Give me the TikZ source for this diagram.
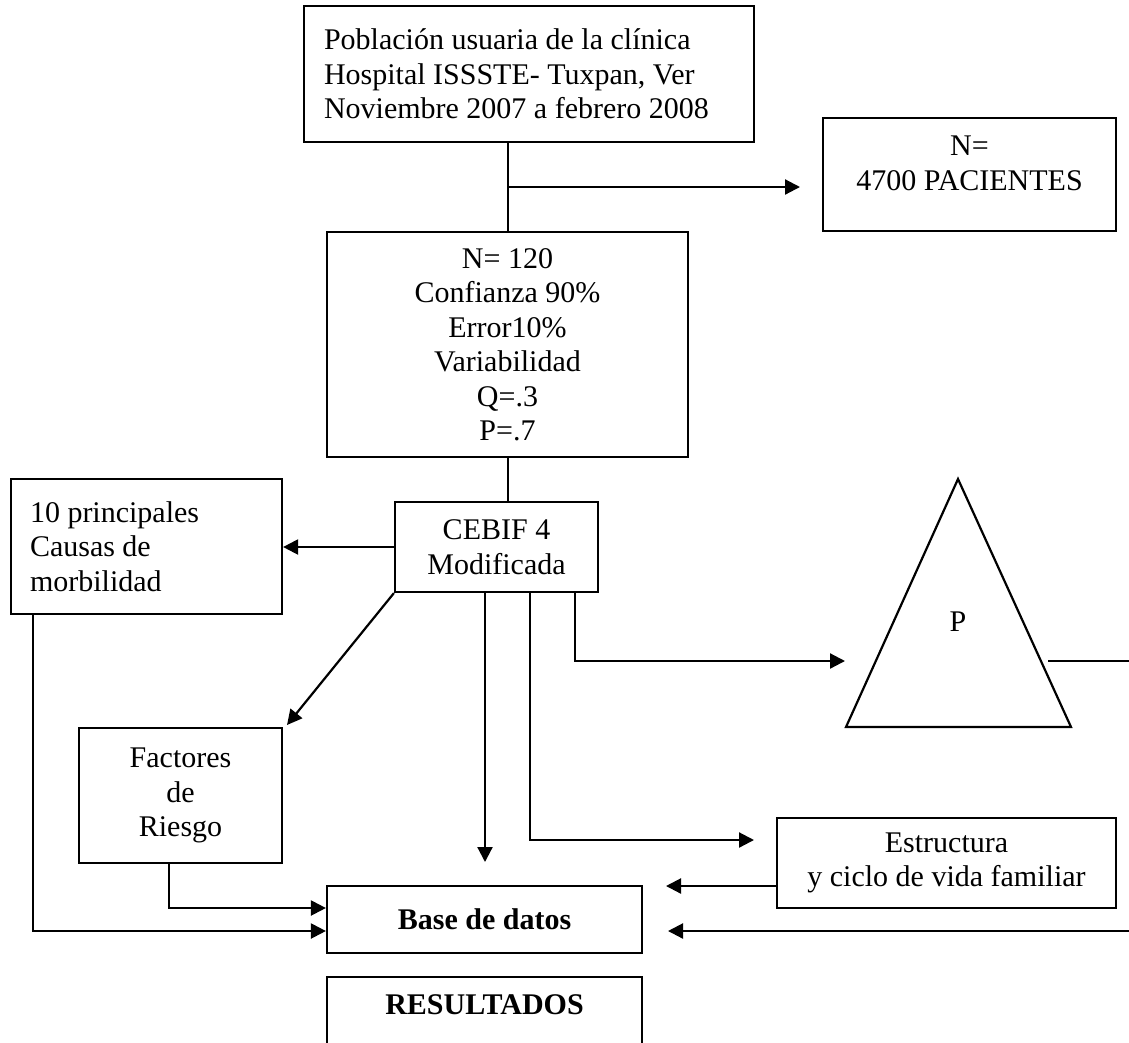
\documentclass[tikz,border=0pt]{standalone}
\usepackage{fontspec}
\setmainfont{Liberation Serif}
\usetikzlibrary{arrows.meta}
\begin{document}
\begin{tikzpicture}[x=1pt,y=-1pt,
  every node/.style={font=\fontsize{30}{34.5}\selectfont},
  box/.style={draw, line width=2.2pt, inner sep=0pt, align=center},
  conn/.style={line width=2.2pt},
  arr/.style={line width=2.2pt, -{Triangle[length=15pt,width=15pt]}}]
\useasboundingbox (0,0) rectangle (1129,1042);
\clip (0,0) rectangle (1129,1042);
% boxes
\node[box, minimum width=450, minimum height=136, align=flush left, text width=410] (top) at (529,74)
  {Población usuaria de la clínica\\Hospital ISSSTE- Tuxpan, Ver\\Noviembre 2007 a febrero 2008};
\node[box, minimum width=293, minimum height=113] (npac) at (969.5,174.5)
  {N=\\4700 PACIENTES\\[-12pt]};
\node[box, minimum width=361, minimum height=225] (n120) at (507.5,344.5)
  {N= 120\\Confianza 90\%\\Error10\%\\Variabilidad\\Q=.3\\P=.7};
\node[box, minimum width=203, minimum height=90] (cebif) at (496.5,547)
  {CEBIF 4\\Modificada};
\node[box, minimum width=271, minimum height=135, align=flush left, text width=233] (prin) at (146.5,546.5)
  {10 principales\\Causas de\\morbilidad\\[-4pt]};
\node[box, minimum width=203, minimum height=135] (fact) at (180.5,795.5)
  {Factores\\de\\Riesgo};
\node[box, minimum width=339, minimum height=90] (estr) at (946.5,863)
  {Estructura\\y ciclo de vida familiar};
\node[box, minimum width=315, minimum height=67] (base) at (484.5,919.5)
  {\textbf{Base de datos}};
\node[box, anchor=north, minimum width=315, inner ysep=17pt, text height=20pt, text depth=80pt] (res) at (484.5,976)
  {\textbf{RESULTADOS}};
% triangle
\coordinate (tA) at (958,479);
\coordinate (tL) at (846,727);
\coordinate (tR) at (1071,727);
\draw[line width=2.2pt, line join=miter] (tA) -- (tL) -- (tR) -- cycle;
\node (p) at (958,622) {P};
% free-end coordinates
\coordinate (tipN) at (800,187);
\coordinate (tipB) at (485,862);
\coordinate (tipE) at (754,840);
\coordinate (tipT) at (845,661);
\coordinate (outT) at (1048,661);
\coordinate (edgeT) at (1129,661);
\coordinate (tipBE) at (666,886);
\coordinate (edgeB) at (1129,931);
\coordinate (tipBB) at (668,931);
\coordinate (tipF) at (287,725);
% connectors
\draw[conn] (top.south -| 508,0) -- (n120.north -| 508,0);
\draw[arr] (508,187) -- (tipN);
\draw[conn] (n120.south -| 508,0) -- (cebif.north -| 508,0);
\draw[arr] (cebif.west |- 0,547) -- (prin.east |- 0,547);
\draw[arr] (cebif.south west) -- (tipF);
\draw[arr] (cebif.south -| 485,0) -- (tipB);
\draw[arr] (cebif.south -| 530,0) |- (tipE);
\draw[arr] (cebif.south -| 575,0) |- (tipT);
\draw[conn] (outT) -- (edgeT);
\draw[arr] (estr.west |- 0,886) -- (tipBE);
\draw[arr] (edgeB) -- (tipBB);
\draw[arr] (fact.south -| 169,0) |- (base.west |- 0,908);
\draw[arr] (prin.south -| 33,0) |- (base.west |- 0,931);
\end{tikzpicture}
\end{document}
